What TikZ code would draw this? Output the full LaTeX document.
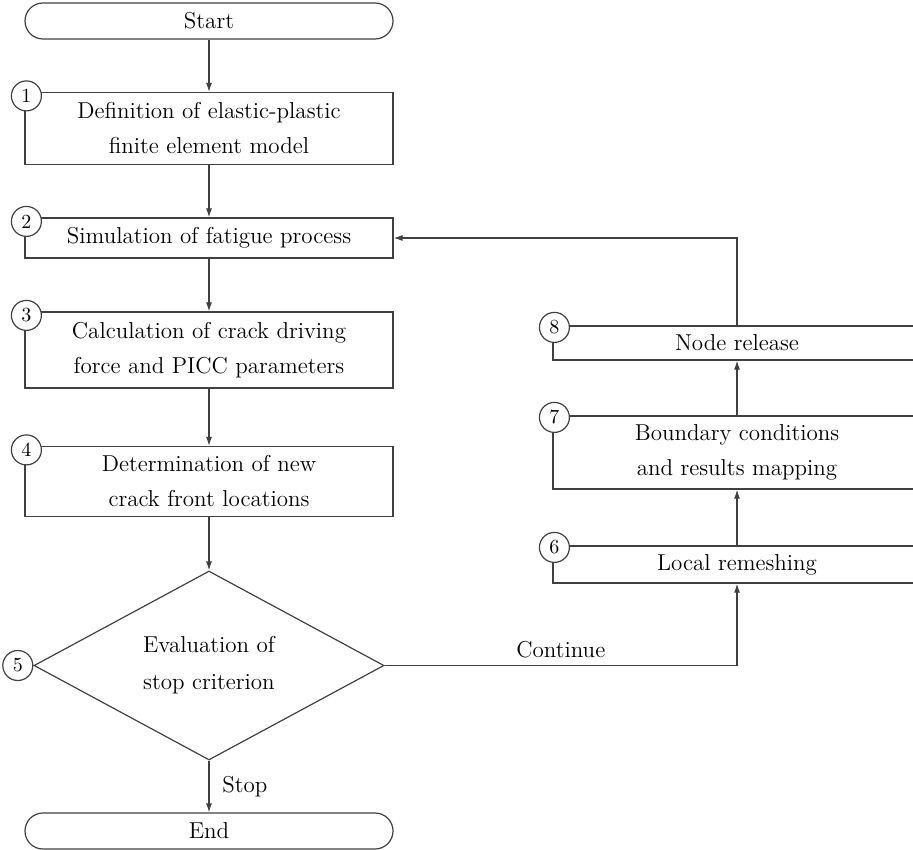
\documentclass[tikz,border=0pt]{standalone}
\usepackage{amsmath,amsfonts}
\usetikzlibrary{arrows.meta,positioning,shapes.geometric,calc}

\begin{document}
\begin{tikzpicture}[x=0.5pt,y=-0.5pt]
\tikzstyle{line} = [draw=black!75, line width=0.6pt]
\tikzstyle{flow} = [line, -{Latex[length=4.5pt,width=3pt]}]
\tikzstyle{box} = [line, rectangle, inner sep=0pt, align=center, minimum width=184pt, font=\fontsize{11.5}{17.5}\selectfont]
\tikzstyle{term} = [box, rounded corners=9pt, minimum height=18pt]
\tikzstyle{num} = [line, circle, fill=white, inner sep=0pt, minimum size=15pt, font=\fontsize{10}{12}\selectfont]
\useasboundingbox (0,0) rectangle (913,849);

% left column
\node[term] (start) at (209,21) {Start};
\node[box, minimum height=36pt] (def) at (209,128.5) {Definition of elastic-plastic\\finite element model};
\node[box, minimum height=20pt] (sim) at (209,238) {Simulation of fatigue process};
\node[box, minimum height=38pt] (calc) at (209,350) {Calculation of crack driving\\force and PICC parameters};
\node[box, minimum height=35pt] (det) at (209,481.5) {Determination of new\\crack front locations};
\node[line, diamond, shape aspect=1.85, inner sep=0pt, minimum width=175pt, minimum height=94.5pt, align=center, font=\fontsize{11.5}{18.5}\selectfont] (eval) at (209,665.5) {Evaluation of\\stop criterion};
\node[term] (end) at (209,831) {End};

% right column (boxes run past the right edge)
\node[box, minimum height=17pt] (rel) at (737,343) {Node release};
\node[box, minimum height=36.5pt] (bc) at (737,452.5) {Boundary conditions\\and results mapping};
\node[box, minimum height=18.5pt] (mesh) at (737,564.5) {Local remeshing};

% step numbers
\node[num] (n1) at ([xshift=1pt,yshift=-2pt]def.north west) {1};
\node[num] (n2) at ([xshift=1pt,yshift=-2pt]sim.north west) {2};
\node[num] (n3) at ([xshift=1pt,yshift=-2pt]calc.north west) {3};
\node[num] (n4) at ([xshift=1pt,yshift=-2pt]det.north west) {4};
\node[num, left=0pt of eval.west] (n5) {5};
\node[num] (n6) at ([xshift=1pt,yshift=-1pt]mesh.north west) {6};
\node[num] (n7) at ([xshift=1pt,yshift=-1pt]bc.north west) {7};
\node[num] (n8) at ([xshift=1pt,yshift=-1pt]rel.north west) {8};

\draw[flow] (start) -- (def);
\draw[flow] (def) -- (sim);
\draw[flow] (sim) -- (calc);
\draw[flow] (calc) -- (det);
\draw[flow] (det) -- (eval);
\draw[flow] (eval) -- node[right=3pt, font=\fontsize{11.5}{14}\selectfont] {Stop} (end);
\draw[flow] (eval.east) -| node[pos=0.25, above, font=\fontsize{11.5}{14}\selectfont] {Continue} (mesh.south);
\draw[flow] (mesh) -- (bc);
\draw[flow] (bc) -- (rel);
\draw[flow] (rel.north) |- (sim.east);
\end{tikzpicture}
\end{document}
